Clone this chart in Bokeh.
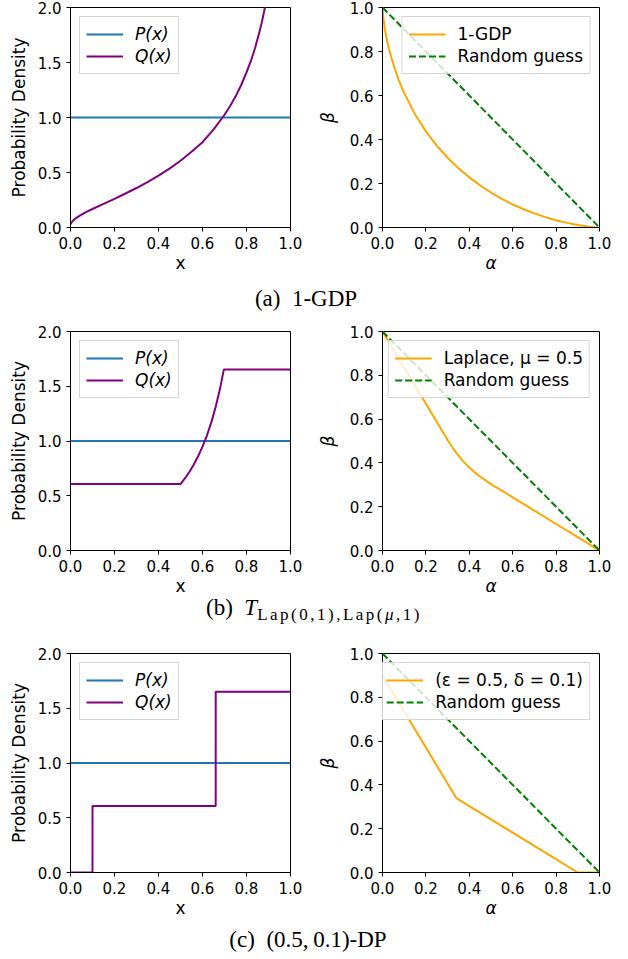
from bokeh.plotting import figure
from bokeh.models import Range1d, FixedTicker, PrintfTickFormatter, Legend, LegendItem, Div
from bokeh.layouts import column, row
from bokeh.embed import file_html
from bokeh.resources import INLINE

# ---------------- data ----------------
x_ticks = [0.0, 0.2, 0.4, 0.6, 0.8, 1.0]
density_ticks = [0.0, 0.5, 1.0, 1.5, 2.0]
beta_ticks = [0.0, 0.2, 0.4, 0.6, 0.8, 1.0]

p_x = [0.0, 1.0]
p_density = [1.0, 1.0]

random_alpha = [0.0, 1.0]
random_beta = [1.0, 0.0]

# (a) 1-GDP
gdp_q_x = [0.0, 0.005, 0.01, 0.02, 0.03, 0.05, 0.075, 0.1, 0.15, 0.2, 0.25, 0.3,
           0.35, 0.4, 0.45, 0.5, 0.55, 0.6, 0.65, 0.7, 0.725, 0.75, 0.775, 0.8,
           0.82, 0.84, 0.86, 0.87, 0.88, 0.885]
gdp_q = [0.03, 0.046, 0.059, 0.078, 0.093, 0.117, 0.144, 0.168, 0.215, 0.261, 0.309, 0.359,
         0.413, 0.471, 0.535, 0.607, 0.688, 0.776, 0.889, 1.025, 1.103, 1.190, 1.291, 1.410,
         1.514, 1.639, 1.786, 1.870, 1.964, 2.014]
gdp_alpha = [0.0, 0.001, 0.005, 0.01, 0.02, 0.03, 0.05, 0.075, 0.1, 0.15, 0.2, 0.25, 0.3,
             0.35, 0.4, 0.45, 0.5, 0.55, 0.6, 0.65, 0.7, 0.75, 0.8, 0.85, 0.9, 0.95, 0.98, 1.0]
gdp_beta = [1.0, 0.982, 0.943, 0.908, 0.854, 0.811, 0.741, 0.670, 0.611, 0.514, 0.437, 0.372, 0.317,
            0.269, 0.228, 0.191, 0.159, 0.130, 0.105, 0.083, 0.064, 0.047, 0.033, 0.021, 0.011, 0.004, 0.001, 0.0]

# (b) Laplace, mu = 0.5
lap_q_x = [0.0, 0.5, 0.52, 0.54, 0.56, 0.58, 0.60, 0.62, 0.64, 0.66, 0.68, 0.697, 1.0]
lap_q = [0.607, 0.607, 0.658, 0.717, 0.783, 0.860, 0.948, 1.050, 1.170, 1.312, 1.481, 1.652, 1.652]
lap_alpha = [0.0, 0.1, 0.2, 0.303, 0.33, 0.36, 0.38, 0.4, 0.42, 0.45, 0.5, 0.6, 0.7, 0.8, 0.9, 1.0]
lap_beta = [1.0, 0.835, 0.670, 0.500, 0.459, 0.421, 0.399, 0.379, 0.361, 0.337, 0.303,
            0.243, 0.182, 0.121, 0.061, 0.0]

# (c) (0.5, 0.1)-DP
dp_q_x = [0.0, 0.1, 0.1, 0.66, 0.66, 1.0]
dp_q = [0.0, 0.0, 0.607, 0.607, 1.65, 1.65]
dp_alpha = [0.0, 0.34, 0.9, 1.0]
dp_beta = [0.9, 0.34, 0.0, 0.0]

captions = [
    "(a)&nbsp; 1-GDP",
    "(b)&nbsp; <i>T</i><span style=\"font-size:17px;letter-spacing:2.5px;position:relative;top:5px\">Lap(0,1),Lap(<i>&mu;</i>,1)</span>",
    "(c)&nbsp; (0.5,&thinsp;0.1)-DP",
]

C_P = "#1f77b4"
C_Q = "#800080"
C_ORANGE = "#FFA500"
C_GREEN = "#008000"
SANS = "DejaVu Sans"
PAGE_W = 628


def make_fig(kind, top, height):
    if kind == "left":
        bl, br, ymax, yticks = 70, 24, 2.0, density_ticks
        xl, yl, style, ystand = "x", "Probability Density", "normal", 6
    else:
        bl, br, ymax, yticks = 66, 29, 1.0, beta_ticks
        xl, yl, style, ystand = "α", "β", "italic", 9
    p = figure(width=314, height=height, x_range=Range1d(0, 1), y_range=Range1d(0, ymax),
               output_backend="svg", toolbar_location=None,
               min_border_left=bl, min_border_right=br, min_border_top=top, min_border_bottom=48)
    p.xgrid.visible = False
    p.ygrid.visible = False
    p.outline_line_color = "black"
    p.outline_line_width = 1
    p.outline_line_alpha = 1
    p.background_fill_color = "white"
    p.border_fill_color = "white"
    p.xaxis.ticker = FixedTicker(ticks=x_ticks)
    p.yaxis.ticker = FixedTicker(ticks=yticks)
    p.xaxis.axis_label = xl
    p.yaxis.axis_label = yl
    for ax in (p.xaxis[0], p.yaxis[0]):
        ax.formatter = PrintfTickFormatter(format="%.1f")
        ax.major_label_text_font = SANS
        ax.major_label_text_font_size = "15px"
        ax.major_label_text_color = "black"
        ax.axis_label_text_font = SANS
        ax.axis_label_text_font_size = "17px"
        ax.axis_label_text_font_style = style
        ax.axis_label_text_color = "black"
        ax.major_tick_in = 0
        ax.major_tick_out = 4
        ax.minor_tick_in = 0
        ax.minor_tick_out = 0
        ax.axis_line_color = "black"
        ax.major_tick_line_color = "black"
    p.xaxis.major_label_standoff = 5
    p.xaxis.axis_label_standoff = 1
    p.yaxis.major_label_standoff = 5
    p.yaxis.axis_label_standoff = ystand
    return p


def add_legend(p, items, location, italic):
    leg = Legend(items=items, location=location, margin=9, padding=6, spacing=0,
                 glyph_width=37, glyph_height=22, label_height=22, label_standoff=12,
                 label_text_font=SANS, label_text_font_size="17px",
                 label_text_font_style="italic" if italic else "normal",
                 label_text_color="black",
                 border_line_color="#cccccc", border_line_alpha=0.8, border_line_width=1,
                 background_fill_color="white", background_fill_alpha=0.8)
    p.add_layout(leg)


def density_panel(top, height, qx, qy):
    p = make_fig("left", top, height)
    r1 = p.line(p_x, p_density, line_color=C_P, line_width=2)
    r2 = p.line(qx, qy, line_color=C_Q, line_width=2)
    add_legend(p, [LegendItem(label="P(x)", renderers=[r1]),
                   LegendItem(label="Q(x)", renderers=[r2])], "top_left", True)
    return p


def tradeoff_panel(top, height, ax, by, label):
    p = make_fig("right", top, height)
    r1 = p.line(ax, by, line_color=C_ORANGE, line_width=2)
    r2 = p.line(random_alpha, random_beta, line_color=C_GREEN, line_width=2, line_dash="7 3")
    add_legend(p, [LegendItem(label=label, renderers=[r1]),
                   LegendItem(label="Random guess", renderers=[r2])], "top_right", False)
    return p


def caption(html, height, pad_top, pad_right, shift=0):
    return Div(text=("<div style=\"box-sizing:border-box;font-family:'Liberation Serif',serif;font-size:23px;"
                     "line-height:23px;color:black;text-align:center;white-space:nowrap;"
                     f"position:relative;top:{shift}px;"
                     f"padding-top:{pad_top}px;padding-right:{pad_right}px;width:{PAGE_W}px\">"
                     + html + "</div>"),
               width=PAGE_W, height=height, margin=(0, 0, 0, 0))


row_a = row(density_panel(7, 275, gdp_q_x, gdp_q),
            tradeoff_panel(7, 275, gdp_alpha, gdp_beta, "1-GDP"), spacing=0)
row_b = row(density_panel(10, 277, lap_q_x, lap_q),
            tradeoff_panel(10, 277, lap_alpha, lap_beta, "Laplace, μ = 0.5"), spacing=0)
row_c = row(density_panel(10, 277, dp_q_x, dp_q),
            tradeoff_panel(10, 277, dp_alpha, dp_beta, "(ε = 0.5, δ = 0.1)"), spacing=0)

layout = column(row_a, caption(captions[0], 46, 12, 16),
                row_b, caption(captions[1], 45, 0, 0, -2),
                row_c, caption(captions[2], 38, 8, 12), spacing=0)

open("out.html", "w").write(file_html(layout, INLINE))
